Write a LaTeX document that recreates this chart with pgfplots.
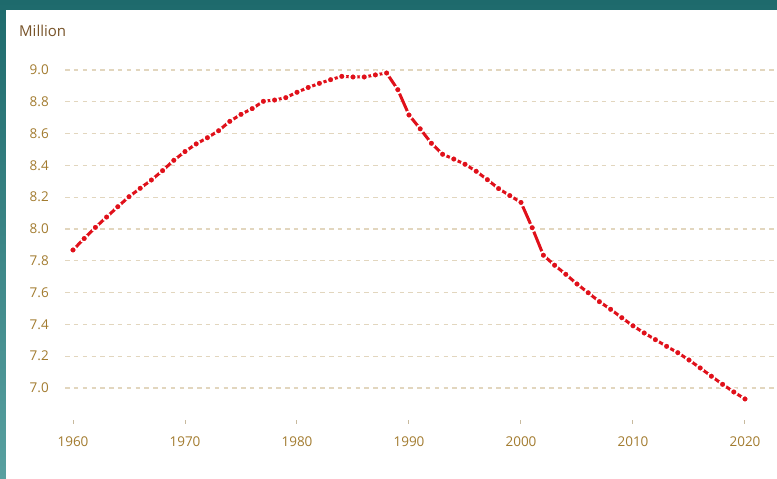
\documentclass[border=0pt]{standalone}
\usepackage{pgfplots}
\pgfplotsset{compat=1.18}
\usepackage{fontspec}
\setmainfont{Open Sans}
\definecolor{tealtop}{RGB}{30,106,108}
\definecolor{tealbot}{RGB}{88,160,160}
\definecolor{ticklab}{RGB}{163,124,48}
\definecolor{unitlab}{RGB}{120,84,42}
\definecolor{gridc}{RGB}{226,214,190}
\definecolor{tickc}{RGB}{200,186,158}
\definecolor{linered}{RGB}{224,16,26}
\begin{document}
\begin{tikzpicture}[x=1bp,y=1bp]
\useasboundingbox (0,0) rectangle (777,479);
\shade[top color=tealtop, bottom color=tealbot] (0,0) rectangle (777,479);
\fill[white] (6,0) rectangle (777,469);
\node[anchor=west, inner sep=0pt, text=unitlab, font=\fontsize{15bp}{18bp}\selectfont] at (19,448) {Million};
\begin{axis}[
  at={(65.16bp,59.2bp)}, anchor=south west,
  scale only axis, width=711.84bp, height=359.34bp,
  xmin=1959.3, xmax=2022.86, ymin=6.8, ymax=9.06,
  axis line style={draw=none},
  xtick={1960,1970,...,2020},
  ytick={7.0,7.2,...,9.01},
  xtick pos=bottom, ytick pos=left,
  tick align=outside,
  major tick length=4bp,
  xtick style={draw=tickc, line width=1bp},
  ytick style={draw=none},
  ymajorgrids,
  grid style={draw=gridc, line width=1.2bp, dash pattern=on 4.5bp off 4.3bp},
  tick label style={text=ticklab, font=\fontsize{13.5bp}{16bp}\selectfont},
  /pgf/number format/assume math mode=true,
  xticklabel style={/pgf/number format/1000 sep={}, inner sep=0pt, anchor=north, yshift=-13bp},
  yticklabel style={/pgf/number format/fixed, /pgf/number format/fixed zerofill, /pgf/number format/precision=1, inner sep=0pt, anchor=east, xshift=-12.2bp},
  clip=false,
]
\addplot[color=linered, line width=3bp, mark=*, mark size=3.6bp,
  mark options={fill=linered, draw=white, line width=1.7bp}]
coordinates {
(1960,7.868)(1961,7.94)(1962,8.01)(1963,8.075)(1964,8.14)(1965,8.203)
(1966,8.256)(1967,8.308)(1968,8.367)(1969,8.432)(1970,8.487)
(1971,8.535)(1972,8.574)(1973,8.618)(1974,8.677)(1975,8.721)
(1976,8.757)(1977,8.803)(1978,8.811)(1979,8.826)(1980,8.86)
(1981,8.89)(1982,8.916)(1983,8.939)(1984,8.96)(1985,8.956)
(1986,8.956)(1987,8.969)(1988,8.981)(1989,8.876)(1990,8.717)
(1991,8.630)(1992,8.539)(1993,8.47)(1994,8.44)(1995,8.407)
(1996,8.363)(1997,8.31)(1998,8.254)(1999,8.21)(2000,8.167)
(2001,8.008)(2002,7.835)(2003,7.772)(2004,7.715)(2005,7.654)
(2006,7.599)(2007,7.543)(2008,7.495)(2009,7.442)(2010,7.391)
(2011,7.346)(2012,7.304)(2013,7.262)(2014,7.222)(2015,7.176)
(2016,7.126)(2017,7.074)(2018,7.023)(2019,6.975)(2020,6.931)
};
\end{axis}
\end{tikzpicture}
\end{document}
